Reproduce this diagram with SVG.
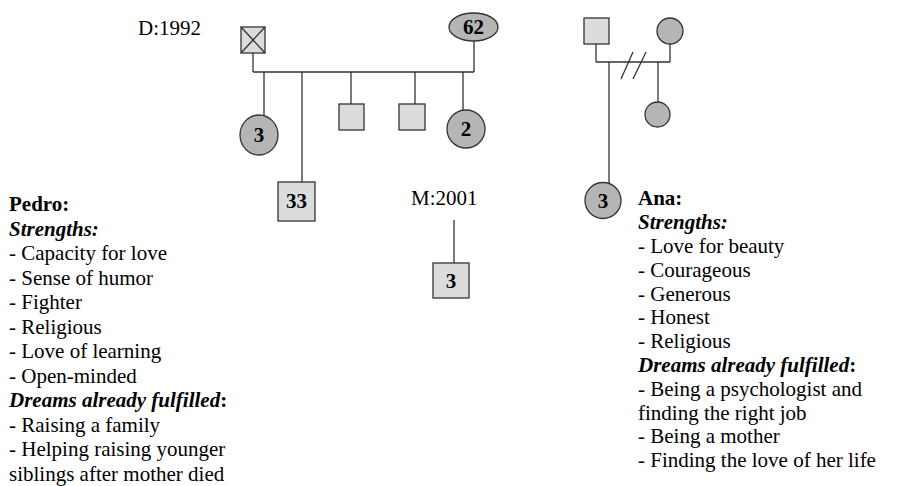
<svg xmlns="http://www.w3.org/2000/svg" width="898" height="486" viewBox="0 0 898 486">
<style>
.ln{stroke:#333;stroke-width:1.3;fill:none}
.sq{fill:#dcdcdc;stroke:#333;stroke-width:1.3}
.ci{fill:#b5b5b5;stroke:#333;stroke-width:1.3}
.lb{font-family:"Liberation Serif","Times New Roman",serif;font-size:21px;font-weight:bold;fill:#000;text-anchor:middle}
.tx{font-family:"Liberation Serif","Times New Roman",serif;font-size:21px;fill:#000}
.b{font-weight:bold}
.bi{font-weight:bold;font-style:italic}
</style>
<rect width="898" height="486" fill="#fff"/>
<g id="connectors">
<path class="ln" d="M253 53V72M474 41V72M253 72H474M264 72V116M302 72V182M351 72V104M415 72V104M463 72V110"/>
<path class="ln" d="M454 220V263"/>
<path class="ln" d="M596 44V62M670 44V62M596 62H670M609 62V183M658 62V102M621 79L633 52M633 79L646 52"/>
</g>
<g id="n-father"><rect class="sq" x="241" y="27" width="24" height="26"/><path class="ln" d="M241 27L265 53M265 27L241 53"/></g>
<g id="n-mother62"><ellipse class="ci" cx="473.5" cy="27" rx="24.5" ry="14"/><text class="lb" x="473.5" y="34">62</text></g>
<g id="n-sis3"><ellipse class="ci" cx="259" cy="135" rx="19" ry="20"/><text class="lb" x="259" y="142">3</text></g>
<g id="n-pedro"><rect class="sq" x="278" y="182" width="37" height="39"/><text class="lb" x="296.5" y="208">33</text></g>
<g id="n-bro1"><rect class="sq" x="339" y="104" width="25" height="26"/></g>
<g id="n-bro2"><rect class="sq" x="399" y="104" width="26" height="26"/></g>
<g id="n-sis2"><ellipse class="ci" cx="466" cy="129" rx="19" ry="19"/><text class="lb" x="466" y="136">2</text></g>
<g id="n-child"><rect class="sq" x="433" y="263" width="36" height="35"/><text class="lb" x="451" y="288">3</text></g>
<g id="n-afather"><rect class="sq" x="584" y="18" width="25" height="26"/></g>
<g id="n-amother"><circle class="ci" cx="670" cy="31" r="13"/></g>
<g id="n-asis"><circle class="ci" cx="657.5" cy="114.5" r="12.5"/></g>
<g id="n-ana"><circle class="ci" cx="603" cy="200.5" r="18"/><text class="lb" x="603" y="208">3</text></g>
<g id="labels">
<text class="tx" x="138" y="35">D:1992</text>
<text class="tx" x="411" y="205">M:2001</text>
</g>
<g id="pedro-text" class="tx">
<text x="9" y="211" class="b">Pedro:</text>
<text x="9" y="235.5" class="bi">Strengths:</text>
<text x="9" y="260">- Capacity for love</text>
<text x="9" y="284.5">- Sense of humor</text>
<text x="9" y="309">- Fighter</text>
<text x="9" y="333.5">- Religious</text>
<text x="9" y="358">- Love of learning</text>
<text x="9" y="382.5">- Open-minded</text>
<text x="9" y="407"><tspan class="bi">Dreams already fulfilled</tspan><tspan class="b">:</tspan></text>
<text x="9" y="431.5">- Raising a family</text>
<text x="9" y="456">- Helping raising younger</text>
<text x="9" y="480.5">siblings after mother died</text>
</g>
<g id="ana-text" class="tx">
<text x="638" y="205" class="b">Ana:</text>
<text x="638" y="229" class="bi">Strengths:</text>
<text x="638" y="253">- Love for beauty</text>
<text x="638" y="276.5">- Courageous</text>
<text x="638" y="300.5">- Generous</text>
<text x="638" y="324">- Honest</text>
<text x="638" y="348">- Religious</text>
<text x="638" y="372"><tspan class="bi">Dreams already fulfilled</tspan><tspan class="b">:</tspan></text>
<text x="638" y="395.5">- Being a psychologist and</text>
<text x="638" y="419.5">finding the right job</text>
<text x="638" y="443">- Being a mother</text>
<text x="638" y="467">- Finding the love of her life</text>
</g>
</svg>
